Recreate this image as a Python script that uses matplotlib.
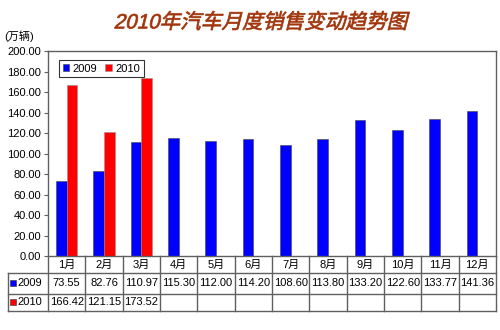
import matplotlib.pyplot as plt
import numpy as np
from matplotlib.textpath import TextPath
from matplotlib.patches import PathPatch
from matplotlib.font_manager import FontProperties
from matplotlib.transforms import Affine2D, IdentityTransform

plt.rcParams['font.family'] = ['Liberation Sans', 'Noto Sans CJK SC', 'DejaVu Sans']

title = '2010年汽车月度销售变动趋势图'
months = ['1月', '2月', '3月', '4月', '5月', '6月', '7月', '8月', '9月', '10月', '11月', '12月']
sales_2009 = [73.55, 82.76, 110.97, 115.30, 112.00, 114.20, 108.60, 113.80, 133.20, 122.60, 133.77, 141.36]
sales_2010 = [166.42, 121.15, 173.52]
yticks = np.arange(0, 201, 20)

c09 = '#0000ff'
c10 = '#ff0000'
line_c = '#606060'
fs = 8

fig = plt.figure(figsize=(5, 3.3), dpi=100)
ax = fig.add_axes([0.096, 0.2242, 0.896, 0.621])

x = np.arange(len(months))
w = 0.29
ax.bar(x - w / 2, sales_2009, w, color=c09, edgecolor='#444444', linewidth=0.4, label='2009')
ax.bar(x[:len(sales_2010)] + w / 2, sales_2010, w, color=c10, edgecolor='#aa8888', linewidth=0.4, label='2010')

ax.set_xlim(-0.5, len(months) - 0.5)
ax.set_ylim(0, 200)
ax.set_yticks(yticks)
ax.set_yticklabels([f'{v:.2f}' for v in yticks], fontsize=fs)
ax.set_xticks([])
ax.tick_params(axis='y', length=3, width=0.8, color=line_c, pad=2)
for s in ax.spines.values():
    s.set_color(line_c)
    s.set_linewidth(1)

leg = ax.legend(loc='upper left', ncol=2, fontsize=fs, frameon=True, fancybox=False,
                handlelength=0.6, handleheight=0.6, handletextpad=0.3, columnspacing=0.7,
                borderpad=0.35, bbox_to_anchor=(0.012, 0.985))
leg.get_frame().set_edgecolor('#000000')
leg.get_frame().set_linewidth(0.8)

# 表格(月份 + 两年数据)
tr = ax.transAxes
row_y = [0, -0.083, -0.185, -0.268]
left = -0.0893
n = len(months)
kw = dict(transform=tr, clip_on=False, color=line_c, linewidth=1)
for y in row_y[1:]:
    ax.plot([left, 1], [y, y], **kw)
ax.plot([left, left], [row_y[1], row_y[3]], **kw)
for i in range(n + 1):
    ax.plot([i / n, i / n], [row_y[0], row_y[3]], **kw)

for i, m in enumerate(months):
    cx = (i + 0.5) / n
    ax.text(cx, (row_y[0] + row_y[1]) / 2, m, transform=tr, ha='center', va='center', fontsize=fs)
    ax.text(cx, (row_y[1] + row_y[2]) / 2, f'{sales_2009[i]:.2f}', transform=tr,
            ha='center', va='center', fontsize=fs)
    if i < len(sales_2010):
        ax.text(cx, (row_y[2] + row_y[3]) / 2, f'{sales_2010[i]:.2f}', transform=tr,
                ha='center', va='center', fontsize=fs)

for k, (lab, col) in enumerate([('2009', c09), ('2010', c10)]):
    yc = (row_y[k + 1] + row_y[k + 2]) / 2
    ax.plot([-0.079], [yc], marker='s', markersize=4.2, color=col, markeredgecolor='#333333',
            markeredgewidth=0.4, transform=tr, clip_on=False)
    ax.text(-0.069, yc, lab, transform=tr, ha='left', va='center', fontsize=fs)

fig.text(0.008, 0.89, '(万辆)', fontsize=fs, ha='left', va='center')

# 斜体标题: 文字路径加倾斜
tp = TextPath((0, 0), title, size=19,
              prop=FontProperties(family=['Liberation Sans', 'Noto Sans CJK SC'], weight='medium'))
bb = tp.get_extents()
sc = 291 / bb.width
t = (Affine2D().translate(-(bb.x0 + bb.x1) / 2, -(bb.y0 + bb.y1) / 2)
     .scale(sc).skew_deg(14, 0).translate(262, 330 - 20.5))
fig.patches.append(PathPatch(tp, transform=t + IdentityTransform(), facecolor='#a0340a',
                             edgecolor='#a0340a', linewidth=0.5))

fig.savefig('out.png', dpi=100, facecolor='white')
